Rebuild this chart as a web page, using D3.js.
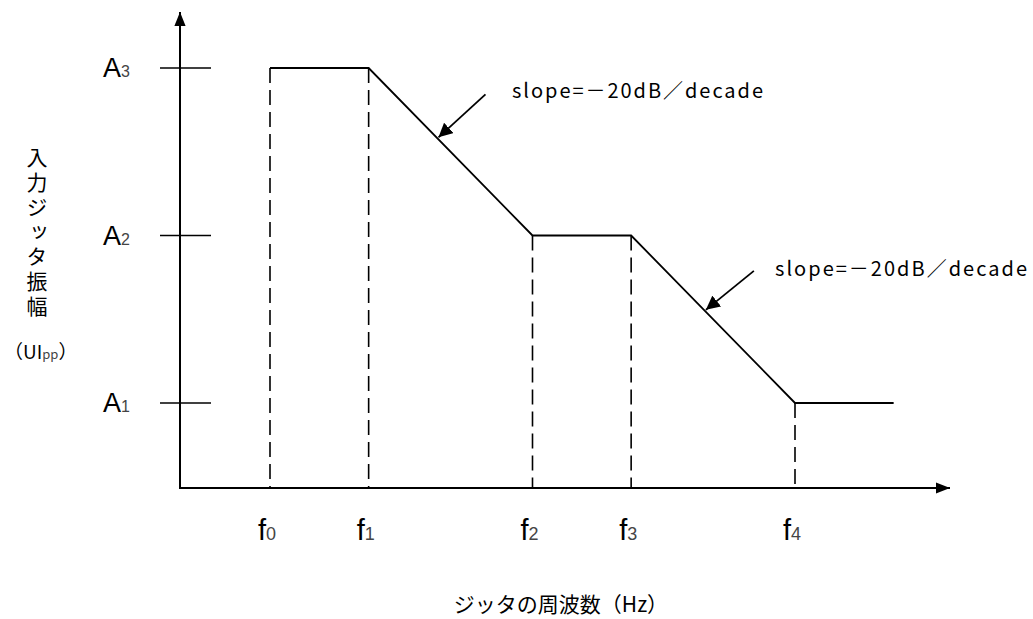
<!DOCTYPE html>
<html><head><meta charset="utf-8">
<script src="https://cdn.jsdelivr.net/npm/d3@7"></script>
<style>
body{margin:0;background:#fff;}
svg{display:block;}
</style></head>
<body>
<svg id="chart" width="1033" height="619"></svg>
<script>
// ---- data ----
const freqLabels = ["0","1","2","3","4"];           // f subscripts
const freqValues = [25, 100, 1000, 4000, 40000];    // frequencies (log scale)
const freqEnd = 160000;                             // end of final plateau
const ampLabels = ["1","2","3"];                    // A subscripts
const ampValues = [1, 10, 100];                     // A1, A2, A3
// mask: amplitude at each corner frequency
const curveAmp = [100, 100, 10, 10, 1];
const slopeNotes = ["slope=－20dB／decade", "slope=－20dB／decade"];
const yTitle = "入力ジッタ振幅";
const yUnit = ["（UI","pp","）"];
const xTitle = "ジッタの周波数（Hz）";

// ---- scales ----
const svg = d3.select("#chart");
const x = d3.scaleLog().domain([25, 40000]).range([270, 795]);
const y = d3.scaleLog().domain([1, 100]).range([403, 68]);
const axisX = 180, axisY = 488, axisXEnd = 950, axisYTop = 12;
const latin = "'Liberation Sans', Arial, sans-serif";
const jp = "'Noto Sans CJK JP', sans-serif";

// markers
const defs = svg.append("defs");
defs.append("marker").attr("id","ah").attr("viewBox","0 0 10 10")
  .attr("refX",10).attr("refY",5).attr("markerWidth",14).attr("markerHeight",14)
  .attr("markerUnits","userSpaceOnUse").attr("orient","auto")
  .append("path").attr("d","M0,0 L10,5 L0,10 Z").attr("fill","#000");
defs.append("marker").attr("id","ah2").attr("viewBox","0 0 10 10")
  .attr("refX",10).attr("refY",5).attr("markerWidth",16).attr("markerHeight",14)
  .attr("markerUnits","userSpaceOnUse").attr("orient","auto")
  .append("path").attr("d","M0,1 L10,5 L0,9 Z").attr("fill","#000");

// dashed verticals
svg.selectAll(".drop").data(freqValues).join("line")
  .attr("x1", d=>x(d)).attr("x2", d=>x(d))
  .attr("y1", (d,i)=>y(curveAmp[i])).attr("y2", axisY)
  .attr("stroke","#000").attr("stroke-width",1.6).attr("stroke-dasharray","15,7");

// axes
svg.append("line").attr("x1",axisX).attr("x2",axisX).attr("y1",axisY+1).attr("y2",axisYTop)
  .attr("stroke","#000").attr("stroke-width",2).attr("marker-end","url(#ah2)");
svg.append("line").attr("x1",axisX-1).attr("x2",axisXEnd).attr("y1",axisY).attr("y2",axisY)
  .attr("stroke","#000").attr("stroke-width",2.2).attr("marker-end","url(#ah2)");

// y ticks
svg.selectAll(".ytick").data(ampValues).join("line")
  .attr("x1",160).attr("x2",211).attr("y1",d=>y(d)).attr("y2",d=>y(d))
  .attr("stroke","#000").attr("stroke-width",1.5);

// y tick labels
const yl = svg.selectAll(".ylab").data(ampValues).join("text")
  .attr("x",103).attr("y",d=>y(d)+9).attr("font-family",latin);
yl.append("tspan").text("A").attr("font-size",27).attr("fill","#000");
yl.append("tspan").text((d,i)=>ampLabels[i]).attr("font-size",16).attr("fill","#444");

// x tick labels
const xl = svg.selectAll(".xlab").data(freqValues).join("text")
  .attr("x",d=>x(d)-12).attr("y",540).attr("font-family",latin);
xl.append("tspan").text("f").attr("font-size",29).attr("fill","#000");
xl.append("tspan").text((d,i)=>freqLabels[i]).attr("font-size",18).attr("fill","#444");

// mask curve
const pts = freqValues.map((f,i)=>[f,curveAmp[i]]).concat([[freqEnd,1]]);
svg.append("path").datum(pts)
  .attr("d", d3.line().x(d=>x(d[0])).y(d=>y(d[1])))
  .attr("fill","none").attr("stroke","#000").attr("stroke-width",1.8);

// slope annotations
const noteSeg = [[1,2],[3,4]];
const noteOffset = [[48,-44],[49,-40]];
noteSeg.forEach((seg,i)=>{
  const fa = freqValues[seg[0]], fb = freqValues[seg[1]];
  const ta = 0.42 + 0.03*i;
  const px = x(fa) + (x(fb)-x(fa))*ta;
  const py = y(curveAmp[seg[0]]) + (y(curveAmp[seg[1]])-y(curveAmp[seg[0]]))*ta;
  svg.append("line").attr("x1",px+noteOffset[i][0]).attr("y1",py+noteOffset[i][1])
    .attr("x2",px+1).attr("y2",py-1)
    .attr("stroke","#000").attr("stroke-width",1.8).attr("marker-end","url(#ah)");
});
svg.append("text").attr("x",512).attr("y",98).attr("font-family",jp).attr("font-size",20)
  .attr("textLength",251).attr("lengthAdjust","spacing").text(slopeNotes[0]);
svg.append("text").attr("x",775).attr("y",276).attr("font-family",jp).attr("font-size",20)
  .attr("textLength",252).attr("lengthAdjust","spacing").text(slopeNotes[1]);

// y title (vertical)
svg.append("text").attr("x",37).attr("y",147)
  .style("writing-mode","vertical-rl").style("letter-spacing","3.7px")
  .attr("font-family",jp).attr("font-size",21).text(yTitle);
const yu = svg.append("text").attr("x",4).attr("y",359).attr("font-family",jp).attr("font-size",19);
yu.append("tspan").text(yUnit[0]);
yu.append("tspan").text(yUnit[1]).attr("font-size",13).attr("fill","#444");
yu.append("tspan").text(yUnit[2]);

// x title
svg.append("text").attr("x",561).attr("y",612).attr("text-anchor","middle")
  .attr("font-family",jp).attr("font-size",21).text(xTitle);
</script>
</body></html>
